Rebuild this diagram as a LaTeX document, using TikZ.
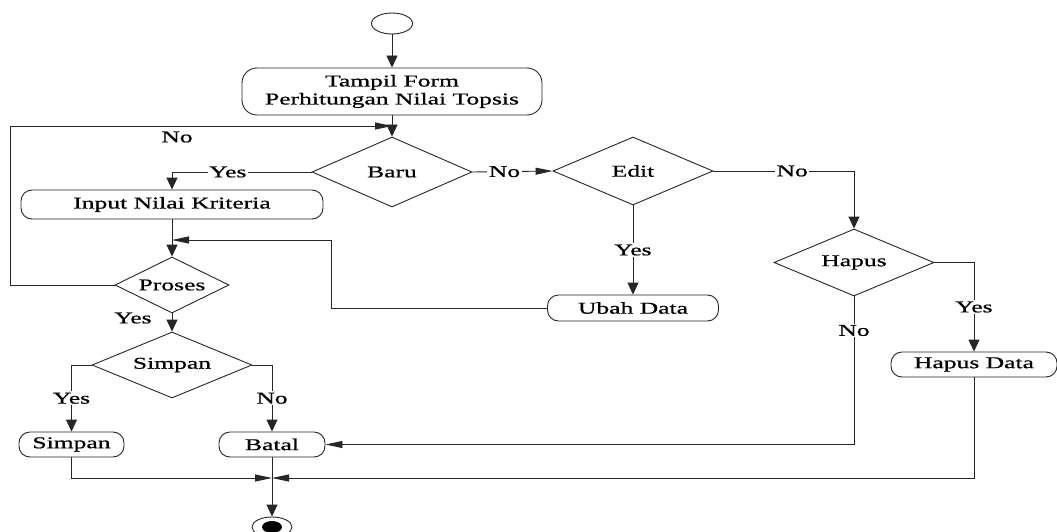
\documentclass[tikz,border=0pt]{standalone}
\usepackage{fontspec}
\setmainfont{Liberation Serif}[FakeStretch=1.55,FakeBold=0.7]
\usetikzlibrary{shapes.geometric,arrows.meta}
\begin{document}
\begin{tikzpicture}[x=1pt,y=-1pt, line width=0.9pt, draw=black!85,
  font=\fontsize{16.5}{18}\selectfont,
  box/.style={draw, rounded corners=11pt, inner sep=0pt, align=center},
  dec/.style={draw, diamond, inner sep=0pt, shape aspect=2.3},
  va/.style={-{Triangle[length=12pt,width=11pt]}},
  ha/.style={-{Triangle[length=17pt,width=7pt]}},
  lbl/.style={fill=white, inner sep=1.5pt}]
\useasboundingbox (0,0) rectangle (1057,532);

% nodes
\node[draw, ellipse, minimum width=41pt, minimum height=21pt, inner sep=0pt] (start) at (392,23.5) {};
\node[box, minimum width=300pt, minimum height=47pt, rounded corners=15pt] (tampil) at (392,91.5) {Tampil Form\\Perhitungan Nilai Topsis};
\node[dec, minimum width=160pt, minimum height=70pt] (baru) at (392,172) {Baru};
\node[dec, minimum width=160pt, minimum height=68pt] (edit) at (633,171) {Edit};
\node[dec, minimum width=160pt, minimum height=67pt] (hapus) at (854,262.5) {Hapus};
\node[box, minimum width=302pt, minimum height=29pt] (input) at (172,204.5) {Input Nilai Kriteria};
\node[dec, minimum width=114pt, minimum height=56pt, shape aspect=2] (proses) at (172,285) {Proses};
\node[box, minimum width=171pt, minimum height=26pt] (ubah) at (633,308) {Ubah Data};
\node[dec, minimum width=160pt, minimum height=66pt] (simpand) at (172,365) {Simpan};
\node[box, minimum width=166pt, minimum height=25pt] (hapusdata) at (974,364.5) {Hapus Data};
\node[box, minimum width=105pt, minimum height=25pt] (simpan) at (71.5,444.5) {Simpan};
\node[box, minimum width=106pt, minimum height=25pt] (batal) at (272,444.5) {Batal};
\node[draw, ellipse, minimum width=40pt, minimum height=20pt, inner sep=0pt] (end) at (272,527) {};
\node[fill=black, ellipse, minimum width=20pt, minimum height=12pt, inner sep=0pt] (endin) at (end.center) {};

\coordinate (j1) at (392,126);
\coordinate (j2) at (172,240);
\coordinate (m) at (272,478);

% connectors
\draw[va] (start.south) -- (tampil.north);
\draw[va] (tampil.south) -- (baru.north);
\draw[ha] (proses.west) -- ++(-104,0) |- (j1);
\node (lno1) at (177,137) {No};
\draw[va] (baru.west) -| node[lbl, pos=0.3]{Yes} (input.north);
\draw[va] (input.south) -- (proses.north);
\draw[ha] (baru.east) -- node[lbl, pos=0.4]{No} (edit.west);
\draw[va] (edit.south) -- node[lbl]{Yes} (ubah.north);
\draw[ha] (ubah.west) -- ++(-216,0) |- (j2);
\draw[va] (edit.east) -| node[lbl, pos=0.28]{No} (hapus.north);
\draw[va] (hapus.east) -| node[lbl, pos=0.75]{Yes} (hapusdata.north);
\draw[ha] (hapus.south) |- node[lbl, pos=0.115]{No} (batal.east);
\draw[va] (proses.south) -- (simpand.north);
\node (lyes1) at (133,318) {Yes};
\draw[va] (simpand.west) -| node[lbl, pos=0.75]{Yes} (simpan.north);
\draw[va] (simpand.east) -| node[lbl, pos=0.75]{No} (batal.north);
\draw[ha] (simpan.south) |- (m);
\draw[ha] (hapusdata.south) |- (m);
\draw[va] (batal.south) -- (end.north);
\end{tikzpicture}
\end{document}
